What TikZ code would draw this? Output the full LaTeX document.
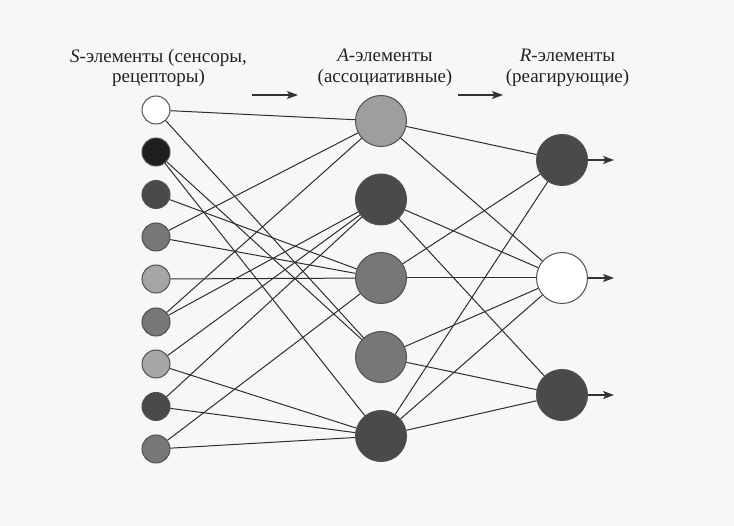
\documentclass[tikz,border=0pt]{standalone}
\usepackage{fontspec}
\setmainfont{Liberation Serif}
\usetikzlibrary{arrows.meta}
\definecolor{bg}{HTML}{F7F7F7}
\definecolor{ringc}{HTML}{505050}
\definecolor{linec}{HTML}{2E2E2E}
\definecolor{textc}{HTML}{222222}
\definecolor{cwhite}{HTML}{FFFFFF}
\definecolor{cblack}{HTML}{1E1E1E}
\definecolor{cdark}{HTML}{4A4A4A}
\definecolor{cmid}{HTML}{777777}
\definecolor{clight}{HTML}{A6A6A6}
\begin{document}
\begin{tikzpicture}[x=1pt,y=-1pt,
  snode/.style={circle,draw=ringc,line width=1pt,minimum size=28pt,inner sep=0pt},
  bnode/.style={circle,draw=ringc,line width=1pt,minimum size=51pt,inner sep=0pt},
  link/.style={draw=linec,line width=1pt},
  outarrow/.style={draw=black!80,line width=1.1pt,-{Stealth[length=11pt,width=8pt,inset=2.5pt]}},
  lbl/.style={align=center,font=\fontsize{19}{20.5}\selectfont,text=textc,inner sep=0pt}]
\fill[bg] (0,0) rectangle (734,526);
\useasboundingbox (0,0) rectangle (734,526);
% labels
\node[lbl] (ls) at (158.5,68) {\textit{S}-элементы (сенсоры,\\рецепторы)};
\node[lbl] (la) at (385,68) {\textit{A}-элементы\\(ассоциативные)};
\node[lbl] (lr) at (567.5,68) {\textit{R}-элементы\\(реагирующие)};
\coordinate (t1a) at (252,95);
\coordinate (t1b) at (298,95);
\coordinate (t2a) at (458,95);
\coordinate (t2b) at (503,95);
\draw[outarrow] (t1a) -- (t1b);
\draw[outarrow] (t2a) -- (t2b);
% S nodes
\node[snode,fill=cwhite] (s1) at (156,110) {};
\node[snode,fill=cblack] (s2) at (156,152) {};
\node[snode,fill=cdark] (s3) at (156,194.5) {};
\node[snode,fill=cmid] (s4) at (156,237) {};
\node[snode,fill=clight] (s5) at (156,279) {};
\node[snode,fill=cmid] (s6) at (156,322) {};
\node[snode,fill=clight] (s7) at (156,364) {};
\node[snode,fill=cdark] (s8) at (156,406.5) {};
\node[snode,fill=cmid] (s9) at (156,449) {};
% A nodes
\node[bnode,fill=clight!95!black] (a1) at (381,121) {};
\node[bnode,fill=cdark] (a2) at (381,199.5) {};
\node[bnode,fill=cmid] (a3) at (381,278) {};
\node[bnode,fill=cmid] (a4) at (381,357) {};
\node[bnode,fill=cdark] (a5) at (381,436) {};
% R nodes
\node[bnode,fill=cdark] (r1) at (562,160) {};
\node[bnode,fill=cwhite] (r2) at (562,278) {};
\node[bnode,fill=cdark] (r3) at (562,395) {};
% S -> A
\draw[link] (s1) -- (a1);
\draw[link] (s1) -- (a4);
\draw[link] (s2) -- (a4);
\draw[link] (s2) -- (a5);
\draw[link] (s3) -- (a3);
\draw[link] (s4) -- (a1);
\draw[link] (s4) -- (a3);
\draw[link] (s5) -- (a3);
\draw[link] (s6) -- (a1);
\draw[link] (s6) -- (a2);
\draw[link] (s7) -- (a2);
\draw[link] (s7) -- (a5);
\draw[link] (s8) -- (a2);
\draw[link] (s8) -- (a5);
\draw[link] (s9) -- (a3);
\draw[link] (s9) -- (a5);
% A -> R
\draw[link] (a1) -- (r1);
\draw[link] (a1) -- (r2);
\draw[link] (a2) -- (r2);
\draw[link] (a2) -- (r3);
\draw[link] (a3) -- (r1);
\draw[link] (a3) -- (r2);
\draw[link] (a4) -- (r2);
\draw[link] (a4) -- (r3);
\draw[link] (a5) -- (r1);
\draw[link] (a5) -- (r2);
\draw[link] (a5) -- (r3);
% outputs
\coordinate (o1) at (614,160);
\coordinate (o2) at (614,278);
\coordinate (o3) at (614,395);
\draw[outarrow] (r1) -- (o1);
\draw[outarrow] (r2) -- (o2);
\draw[outarrow] (r3) -- (o3);
\end{tikzpicture}
\end{document}
